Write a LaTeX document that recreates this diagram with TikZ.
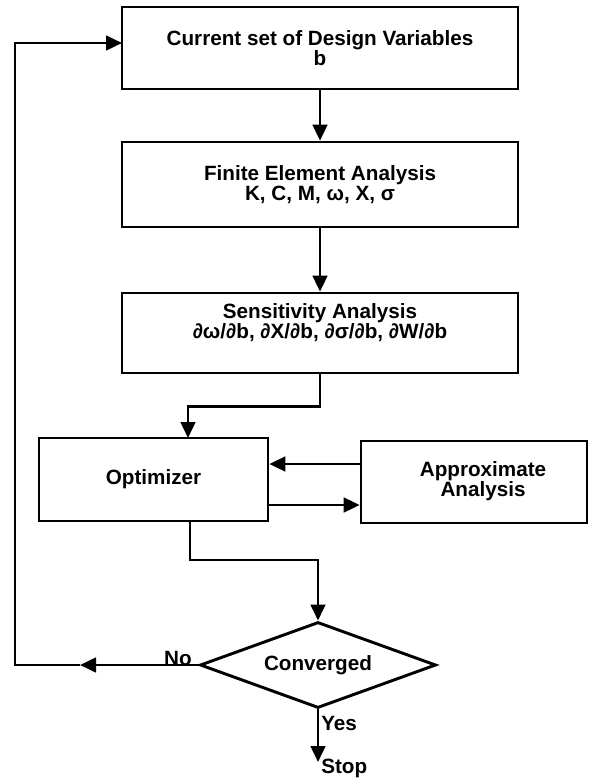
\documentclass[tikz,border=0pt]{standalone}
\usepackage{fontspec}
\setmainfont{Liberation Sans}
\usepackage{tikz}
\usetikzlibrary{shapes,arrows.meta,positioning,calc}
\tikzstyle{boxtext} = [inner sep=0pt, align=center, font=\bfseries\fontsize{15.5}{14.5}\selectfont]
\tikzstyle{box} = [draw, line width=2pt, boxtext]
\tikzstyle{decision} = [draw, diamond, aspect=2.7, line width=2.2pt, minimum width=177pt, minimum height=64.5pt, boxtext]
\tikzstyle{lbl} = [inner sep=0pt, font=\bfseries\fontsize{15.5}{15}\selectfont]
\tikzstyle{arrow} = [line width=2pt, -{Triangle[length=12pt,width=11pt]}]

\begin{document}
\begin{tikzpicture}[x=0.75pt, y=-0.75pt]
\useasboundingbox (0,0) rectangle (593,780);

% Main column of boxes
\node[box, minimum width=297pt, minimum height=61.5pt] (design) at (320,48) {Current set of Design Variables\\b};
\node[box, minimum width=297pt, minimum height=63.75pt] (fea) at (320,184.5) {Finite Element Analysis\\K, C, M, ω, X, σ};
\node[box, minimum width=297pt, minimum height=60pt] (sens) at (320,333) {};
\node[boxtext] (senstext) at (320,322.5) {Sensitivity Analysis\\∂ω/∂b, ∂X/∂b, ∂σ/∂b, ∂W/∂b};

% Optimizer and approximate analysis
\node[box, minimum width=171.75pt, minimum height=62.25pt] (opt) at (153.5,479.5) {Optimizer};
\node[box, minimum width=169.5pt, minimum height=61.5pt] (approx) at (474,482) {};
\node[boxtext] (approxtext) at (483,481) {Approximate\\Analysis};

% Convergence check
\node[decision] (conv) at (318,665) {Converged};

% Helper coordinates
\coordinate (optin) at (188,438);
\coordinate (upper) at (0,464);
\coordinate (lower) at (0,505);
\coordinate (optout) at (190,521);
\coordinate (noarrow) at (80,665);
\coordinate (nocorner) at (15,665);
\coordinate (fbin) at (122,43);
\coordinate (stop) at (318,762);

% Connectors
\draw[arrow] (design) -- (fea);
\draw[arrow] (fea) -- (sens);
\draw[arrow] (sens.south) -- ++(0,32) -| (optin);
\draw[arrow] (approx.west |- upper) -- (opt.east |- upper);
\draw[arrow] (opt.east |- lower) -- (approx.west |- lower);
\draw[arrow] (optout) -- ++(0,39) -| (conv.north);
\draw[arrow] (conv.west) -- (noarrow);
\draw[arrow] (noarrow) -- (nocorner) |- (fbin);
\draw[arrow] (conv.south) -- (stop);

% Labels
\node[lbl] (no) at (178,658) {No};
\node[lbl, anchor=west] (yes) at (321,723) {Yes};
\node[lbl, anchor=west] (stoptext) at (321,768) {Stop};

\end{tikzpicture}
\end{document}
